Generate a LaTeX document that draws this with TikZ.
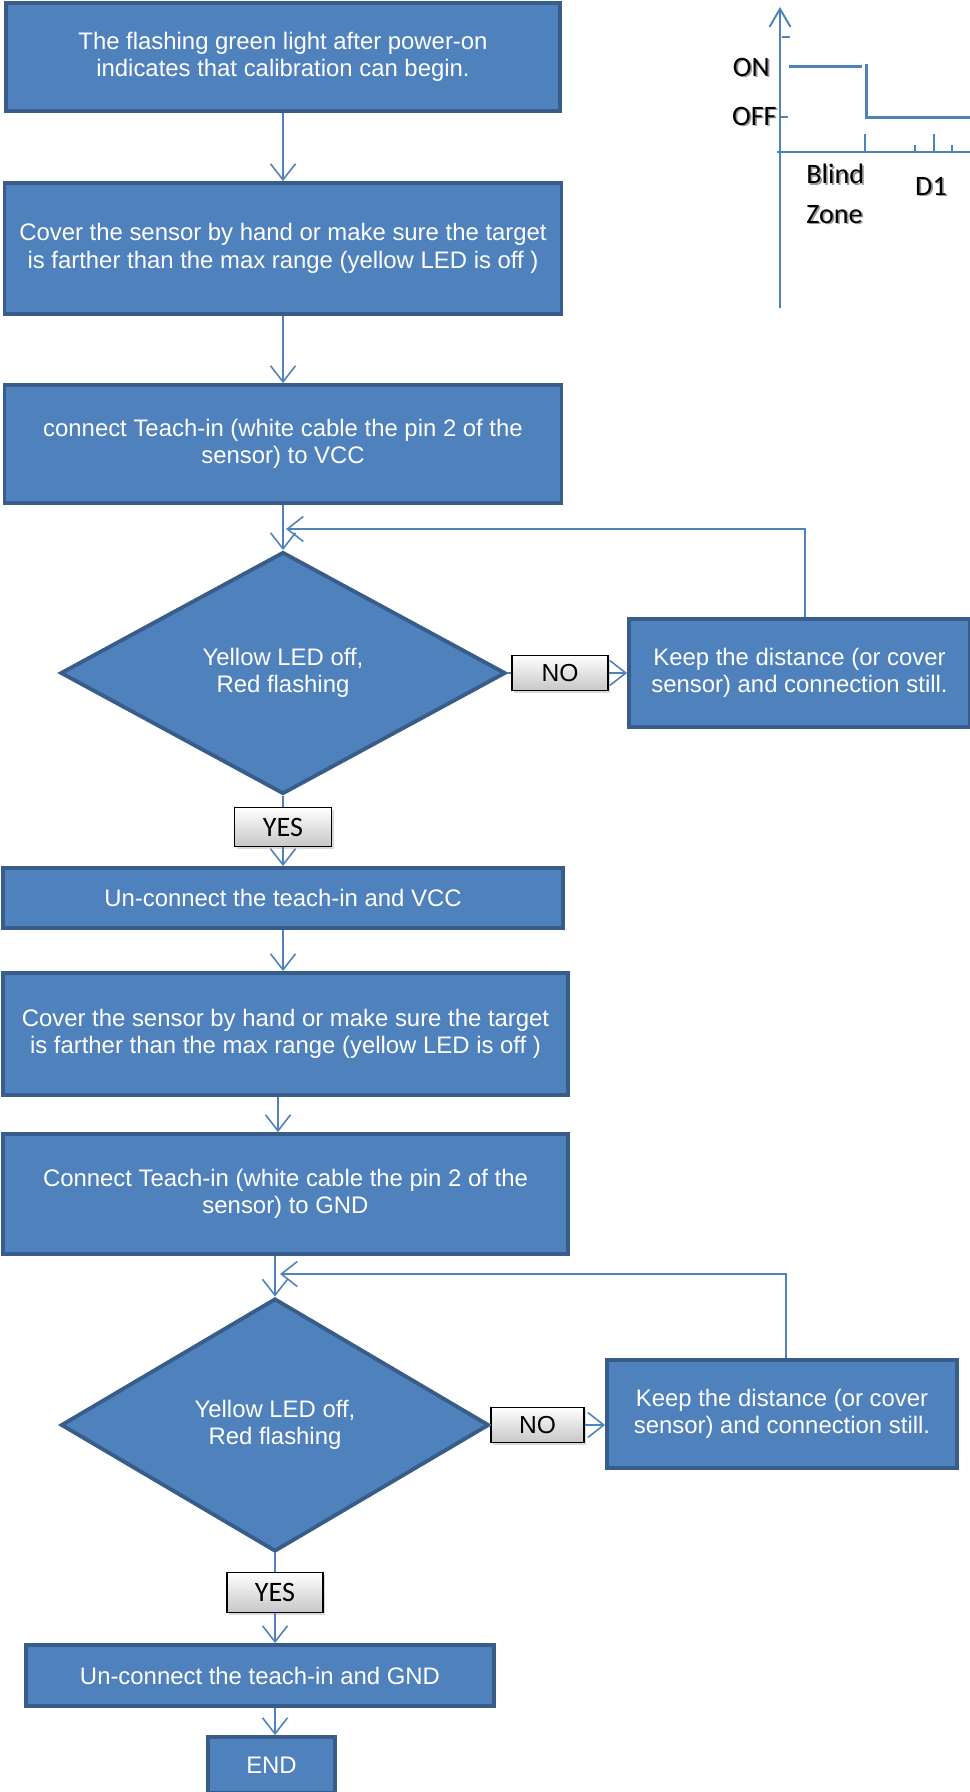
\documentclass[tikz,border=0pt]{standalone}
\usepackage{fontspec}
\setmainfont{Liberation Sans}
\newfontfamily\calibri{Carlito}
\usetikzlibrary{arrows.meta,shapes.geometric,shadows}

\definecolor{boxblue}{HTML}{4F81BD}
\definecolor{boxedge}{HTML}{385D8A}

% soft grey copy behind the chart labels
\newcommand{\softshadow}[1]{\leavevmode\rlap{\raisebox{-0.8pt}{\kern1pt\textcolor{black!40}{#1}}}#1}

\tikzset{
  stepbox/.style={draw=boxedge, line width=2.2pt, fill=boxblue, text=white,
    align=center, inner sep=0pt, font=\fontsize{13.6}{15.6}\selectfont},
  check/.style={stepbox, shape=diamond},
  answer/.style={draw=black, line width=0.8pt, top color=white, bottom color=black!22,
    drop shadow={shadow xshift=1.2pt, shadow yshift=-1.5pt, opacity=0.3},
    inner sep=0pt},
  flow/.style={draw=boxblue, line width=0.9pt, -{Straight Barb[length=3.2mm,width=5mm]}},
  plain/.style={draw=boxblue, line width=0.9pt},
  chartlbl/.style={inner sep=0pt, font=\calibri\fontsize{16}{18}\selectfont},
}

\begin{document}
\begin{tikzpicture}
  \useasboundingbox (0,0) rectangle (19.4,-35.84);

  %% first teach-in (VCC)
  \node[stepbox, minimum width=11.08cm, minimum height=2.16cm] (start) at (5.66,-1.14)
    {The flashing green light after power-on\\indicates that calibration can begin.};
  \node[stepbox, minimum width=11.14cm, minimum height=2.62cm] (cover1) at (5.66,-4.97)
    {Cover the sensor by hand or make sure the target\\is farther than the max range (yellow LED is off )};
  \node[stepbox, minimum width=11.14cm, minimum height=2.36cm] (teachvcc) at (5.66,-8.88)
    {connect Teach-in (white cable the pin 2 of the\\sensor) to VCC};
  \node[check, minimum width=8.9cm, minimum height=4.84cm] (check1) at (5.66,-13.46)
    {Yellow LED off,\\Red flashing};
  \node[stepbox, minimum width=6.82cm, minimum height=2.16cm] (hold1) at (15.99,-13.46)
    {Keep the distance (or cover\\sensor) and connection still.};
  \node[answer, minimum width=1.92cm, minimum height=0.7cm, font=\fontsize{14}{16}\selectfont] (no1) at (11.2,-13.46) {NO};
  \node[answer, minimum width=1.94cm, minimum height=0.78cm, font=\calibri\fontsize{16}{18}\selectfont] (yes1) at (5.66,-16.54) {YES};
  \node[stepbox, minimum width=11.2cm, minimum height=1.2cm] (freevcc) at (5.66,-17.96)
    {Un-connect the teach-in and VCC};

  %% second teach-in (GND)
  \node[stepbox, minimum width=11.3cm, minimum height=2.44cm] (cover2) at (5.71,-20.68)
    {Cover the sensor by hand or make sure the target\\is farther than the max range (yellow LED is off )};
  \node[stepbox, minimum width=11.3cm, minimum height=2.4cm] (teachgnd) at (5.71,-23.88)
    {Connect Teach-in (white cable the pin 2 of the\\sensor) to GND};
  \node[check, minimum width=8.56cm, minimum height=5.06cm] (check2) at (5.5,-28.5)
    {Yellow LED off,\\Red flashing};
  \node[stepbox, minimum width=7cm, minimum height=2.16cm] (hold2) at (15.64,-28.28)
    {Keep the distance (or cover\\sensor) and connection still.};
  \node[answer, minimum width=1.86cm, minimum height=0.7cm, font=\fontsize{14}{16}\selectfont] (no2) at (10.75,-28.5) {NO};
  \node[answer, minimum width=1.92cm, minimum height=0.8cm, font=\calibri\fontsize{16}{18}\selectfont] (yes2) at (5.5,-31.85) {YES};
  \node[stepbox, minimum width=9.36cm, minimum height=1.22cm] (freegnd) at (5.2,-33.51)
    {Un-connect the teach-in and GND};
  \node[stepbox, minimum width=2.54cm, minimum height=1.12cm] (finish) at (5.43,-35.3) {END};

  \coordinate (back1) at (5.72,-10.58);
  \coordinate (back2) at (5.6,-25.48);

  %% connectors
  \draw[flow] (start) -- (cover1);
  \draw[flow] (cover1) -- (teachvcc);
  \draw[flow] (teachvcc) -- (check1);
  \draw[plain] (check1) -- (no1);
  \draw[flow] (no1) -- (hold1);
  \draw[flow] ([xshift=0.11cm]hold1.north) |- (back1);
  \draw[plain] (check1) -- (yes1);
  \draw[flow] (yes1) -- (freevcc);
  \draw[flow] (freevcc.south) -- (freevcc.south |- cover2.north);
  \draw[flow] ([xshift=-0.15cm]cover2.south) -- ([xshift=-0.15cm]teachgnd.north);
  \draw[flow] (teachgnd.south -| check2.north) -- (check2.north);
  \draw[plain] (check2) -- (no2);
  \draw[flow] (no2) -- (no2 -| hold2.west);
  \draw[flow] ([xshift=0.08cm]hold2.north) |- (back2);
  \draw[plain] (check2) -- (yes2);
  \draw[flow] (yes2) -- (yes2 |- freegnd.north);
  \draw[flow] (yes2 |- freegnd.south) -- (yes2 |- finish.north);

  %% output vs. distance sketch
  \draw[boxblue, line width=1.1pt, -{Straight Barb[length=3.6mm,width=4.2mm]}] (15.6,-6.16) -- (15.6,-0.14);
  \draw[boxblue, line width=1.1pt] (15.54,-3.04) -- (19.5,-3.04);
  \draw[boxblue, line width=1.3pt] (15.64,-0.74) -- (15.8,-0.74);
  \draw[boxblue, line width=1.1pt] (15.6,-2.34) -- (15.76,-2.34);
  \foreach \x/\h in {17.3/0.36, 18.3/0.14, 18.68/0.36, 19.04/0.14}{
    \draw[boxblue, line width=1.1pt] (\x,-3.04) -- ++(0,\h);
  }
  \draw[boxblue, line width=1.7pt] (15.78,-1.32) -- (17.24,-1.32);
  \draw[boxblue, line width=1.7pt] (17.32,-1.28) -- (17.32,-2.34) -- (19.5,-2.34);

  \node[chartlbl, anchor=east] (on) at (15.4,-1.36) {\softshadow{ON}};
  \node[chartlbl, anchor=east] (off) at (15.54,-2.34) {\softshadow{OFF}};
  \node[chartlbl, anchor=west] (blind) at (16.12,-3.5) {\softshadow{Blind}};
  \node[chartlbl, anchor=west] (zone) at (16.12,-4.3) {\softshadow{Zone}};
  \node[chartlbl] (d1) at (18.62,-3.74) {\softshadow{D1}};
\end{tikzpicture}
\end{document}
